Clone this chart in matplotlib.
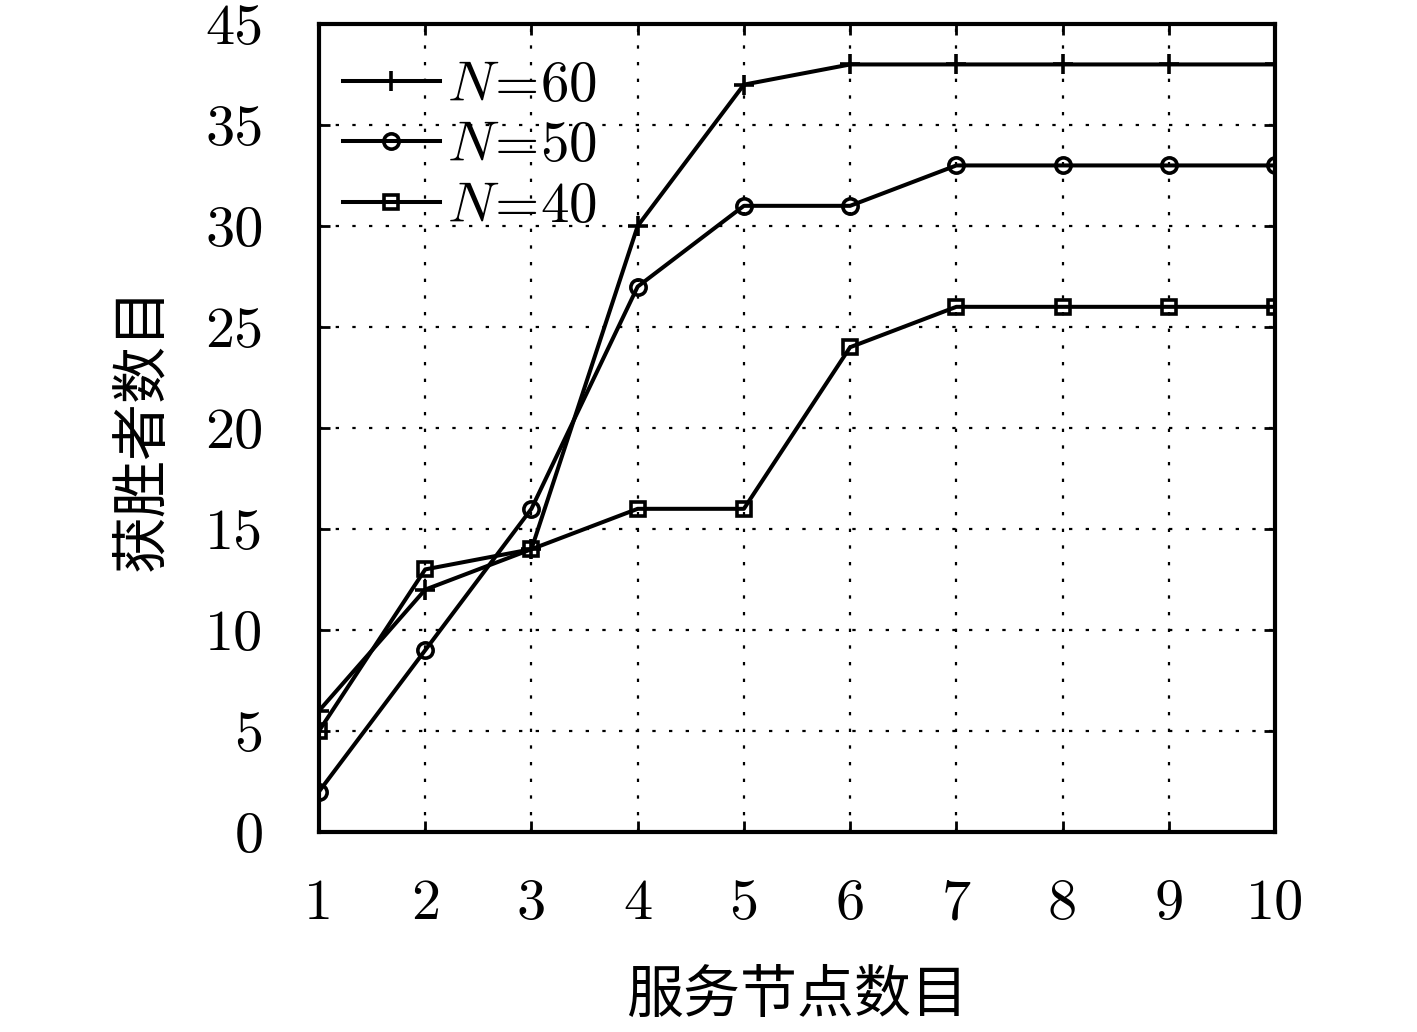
import matplotlib
matplotlib.use('Agg')
import matplotlib.pyplot as plt

plt.rcParams['mathtext.fontset'] = 'cm'

# service node counts and winners for each N
nodes = [1, 2, 3, 4, 5, 6, 7, 8, 9, 10]
win_n60 = [6, 12, 14, 30, 37, 38, 38, 38, 38, 38]
win_n50 = [2, 9, 16, 27, 31, 31, 33, 33, 33, 33]
win_n40 = [5, 13, 14, 16, 16, 24, 26, 26, 26, 26]

yticks = [0, 5, 10, 15, 20, 25, 30, 35, 40]
ytick_labels = ['0', '5', '10', '15', '20', '25', '30', '35', '45']

fig = plt.figure(figsize=(14.17, 10.32), dpi=100)
ax = fig.add_axes([0.2251, 0.1938, 0.6747, 0.7829])

lw = 2.9
ax.plot(nodes, win_n60, color='black', lw=lw, marker='+', ms=15, mew=2.6,
        label=r'$N\!=\!60$')
ax.plot(nodes, win_n50, color='black', lw=lw, marker='o', ms=11, mew=2.6,
        mfc='none', label=r'$N\!=\!50$')
ax.plot(nodes, win_n40, color='black', lw=lw, marker='s', ms=10, mew=2.6,
        mfc='none', label=r'$N\!=\!40$')

ax.set_xlim(1, 10)
ax.set_ylim(0, 40)
ax.set_xticks(nodes)
ax.set_xticklabels([str(n) for n in nodes], family='cmr10', fontsize=42)
ax.set_yticks(yticks)
ax.set_yticklabels(ytick_labels, family='cmr10', fontsize=42)
ax.tick_params(direction='in', length=8, width=2, top=True, right=True)
ax.tick_params(axis='x', pad=34)
ax.tick_params(axis='y', pad=40)

ax.grid(True, linestyle=(0, (1.5, 6)), color='black', lw=1.6)
for s in ax.spines.values():
    s.set_linewidth(3)

ax.set_xlabel('服务节点数目', family='Noto Sans CJK SC', fontsize=41, labelpad=26)
ax.set_ylabel('获胜者数目', family='Noto Sans CJK SC', fontsize=41, labelpad=24)

leg = ax.legend(loc='upper left', bbox_to_anchor=(0, 0.988), frameon=False,
                fontsize=41, handlelength=1.7, handletextpad=0.12,
                labelspacing=0.1, borderaxespad=0.22, borderpad=0.2)

fig.savefig('out.png', dpi=100, facecolor='white')
